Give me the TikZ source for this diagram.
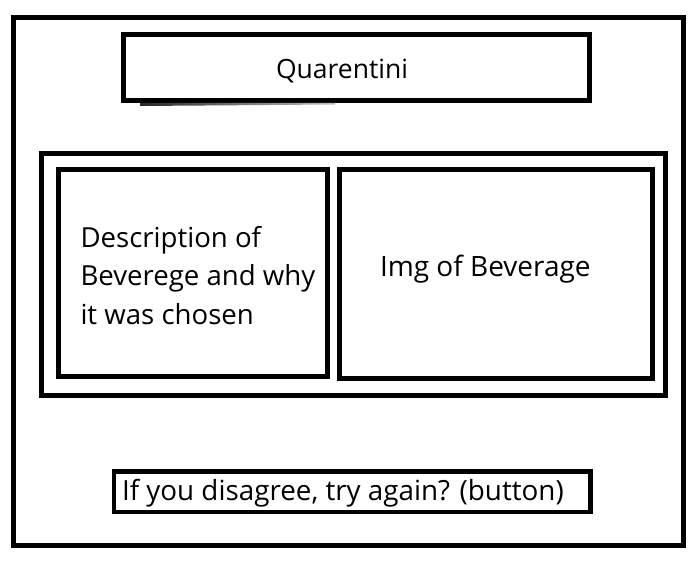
\documentclass[tikz,border=0pt]{standalone}
\usepackage{fontspec}
\setmainfont{Open Sans}
\begin{document}
\begin{tikzpicture}[x=1pt,y=-1pt,
  box/.style={draw=black,line width=5pt,rectangle,inner sep=0pt,outer sep=0pt},
  lbl/.style={inner sep=0pt,outer sep=0pt,anchor=base west,text=black}]
\useasboundingbox (0,0) rectangle (696,564);
\fill[white] (0,0) rectangle (696,564);
% frames
\node[box,minimum width=669.5pt,minimum height=528pt] (frame) at (348.25,281.5) {};
\node[box,minimum width=466pt,minimum height=66.5pt] (titlebox) at (356.5,67.75) {};
\shade[left color=black!85,right color=black!25] (140,103) -- (335,103) -- (335,104.5) -- (140,106) -- cycle;
\node[box,minimum width=623.5pt,minimum height=241.5pt] (content) at (353.25,274.25) {};
\node[box,minimum width=269pt,minimum height=206.5pt] (descbox) at (193,272.75) {};
\node[box,minimum width=313.5pt,minimum height=209pt] (imgbox) at (495.75,274) {};
\node[box,line width=4.4pt,minimum width=476.7pt,minimum height=40.9pt] (button) at (352.15,491.75) {};
% texts
\node[lbl,font=\fontsize{26.5}{31}\selectfont] (titletext) at (276,78.3) {Quarentini};
\node[lbl,font=\fontsize{27.6}{38}\selectfont] (desc1) at (80.5,247.3) {Description of};
\node[lbl,font=\fontsize{27.6}{38}\selectfont] (desc2) at (80.5,285.8) {Beverege and why};
\node[lbl,font=\fontsize{27.6}{38}\selectfont] (desc3) at (80.5,324.3) {it was chosen};
\node[lbl,font=\fontsize{28}{38}\selectfont] (imgtext) at (380,276) {Img of Beverage};
\node[lbl,font=\fontsize{27.8}{33}\selectfont] (buttontext) at (122,500.5) {If you disagree, try again? (button)};
\end{tikzpicture}
\end{document}
